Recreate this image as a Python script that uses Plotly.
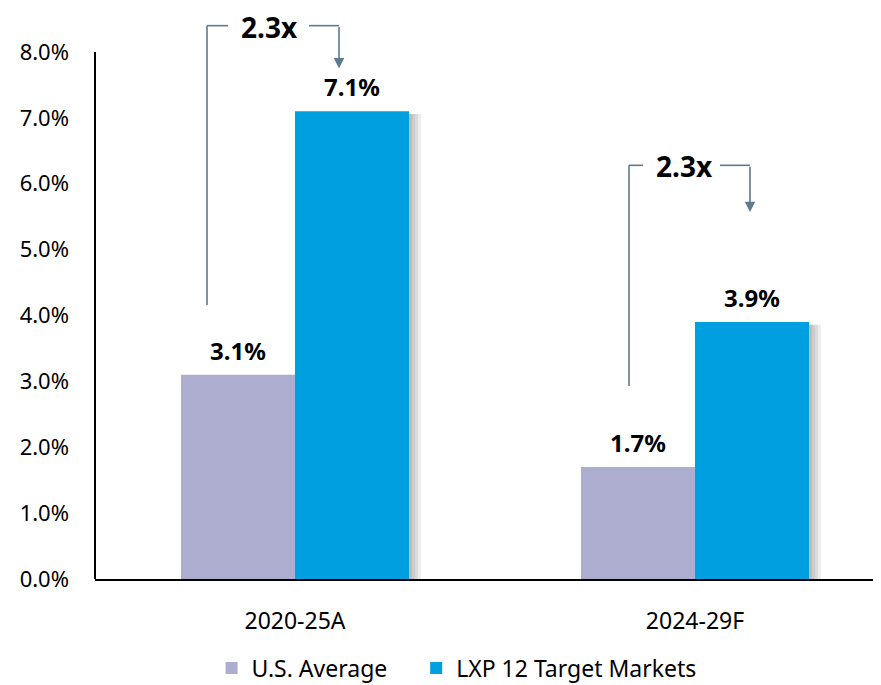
import plotly.graph_objects as go

categories = ["2020-25A", "2024-29F"]
us_average = [3.1, 1.7]
lxp_markets = [7.1, 3.9]
series_names = ["U.S. Average", "LXP 12 Target Markets"]
multiplier_labels = ["2.3x", "2.3x"]
y_ticks = [0, 1, 2, 3, 4, 5, 6, 7, 8]
y_tick_labels = ["0.0%", "1.0%", "2.0%", "3.0%", "4.0%", "5.0%", "6.0%", "7.0%", "8.0%"]

PURPLE = "#adadd0"
BLUE = "#009fdf"
ARROW = "#5b7b8e"
FONT = "Noto Sans"

# page has an 8px body margin; figure laid out so the visible part matches the window
FIG_W, FIG_H = 873, 685
M_L, M_R, M_T, M_B = 87, 0, 0, 114
PLOT_H = FIG_H - M_T - M_B
PX_PER_UNIT = 65.875
Y_MAX = PLOT_H / PX_PER_UNIT  # room above the top tick for the brackets
X_SPAN = (FIG_W - M_L - M_R) / 400.0

fig = go.Figure()
fig.add_trace(go.Bar(x=categories, y=us_average,
                     name=series_names[0] + "&nbsp;&nbsp;&nbsp;&nbsp;",
                     marker=dict(color=PURPLE, line=dict(width=0))))
fig.add_trace(go.Bar(x=categories, y=lxp_markets, name=series_names[1],
                     marker=dict(color=BLUE, line=dict(width=0))))

half = 0.285 / 2  # half width of one bar in category units
annotations = []
shapes = []
for i, (u, l) in enumerate(zip(us_average, lxp_markets)):
    for xv, val in ((i - half, u), (i + half, l)):
        annotations.append(dict(x=xv, y=val, xref="x", yref="y", text=f"<b>{val:.1f}%</b>",
                                showarrow=False, yanchor="bottom", yshift=6,
                                font=dict(size=24, color="black", family=FONT)))
    # soft shadow at the right of the blue bar
    for k in range(4):
        shapes.append(dict(type="rect", xref="x", yref="y", layer="below",
                           x0=i + 2 * half, x1=i + 2 * half + 0.0075 * (k + 1),
                           y0=-0.03, y1=l - 0.04, line=dict(width=0),
                           fillcolor="rgba(0,0,0,0.07)"))

# y axis line only up to the top tick
shapes.append(dict(type="line", xref="paper", yref="y", x0=0, x1=0, y0=0, y1=y_ticks[-1],
                   line=dict(color="black", width=2)))

# bracket geometry (category units relative to group centre, value units)
brackets = [
    dict(left=-0.22, lend=-0.1675, text=-0.065, rstart=0.035, arrow=0.11,
         top=8.40, bottom=4.16, tip=7.75),
    dict(left=-0.165, lend=-0.13, text=-0.0275, rstart=0.0625, arrow=0.1375,
         top=6.28, bottom=2.93, tip=5.57),
]

def line_shape(x0, y0, x1, y1):
    return dict(type="line", xref="x", yref="y", x0=x0, y0=y0, x1=x1, y1=y1,
                line=dict(color=ARROW, width=1.6))

for i, b in enumerate(brackets):
    shapes.append(line_shape(i + b["left"], b["bottom"], i + b["left"], b["top"]))
    shapes.append(line_shape(i + b["left"], b["top"], i + b["lend"], b["top"]))
    shapes.append(line_shape(i + b["rstart"], b["top"], i + b["arrow"], b["top"]))
    annotations.append(dict(x=i + b["arrow"], y=b["tip"], ax=i + b["arrow"], ay=b["top"],
                            xref="x", yref="y", axref="x", ayref="y", text="",
                            showarrow=True, arrowhead=2, arrowsize=1.3, arrowwidth=1.6,
                            arrowcolor=ARROW, standoff=0, startstandoff=0))
    annotations.append(dict(x=i + b["text"], y=b["top"], xref="x", yref="y",
                            text=f"<b>{multiplier_labels[i]}</b>", showarrow=False,
                            borderpad=0, yshift=-1,
                            font=dict(size=28, color="black", family=FONT)))

fig.update_layout(
    width=FIG_W, height=FIG_H,
    margin=dict(l=M_L, r=M_R, t=M_T, b=M_B),
    paper_bgcolor="white", plot_bgcolor="white",
    barmode="group", bargap=0.43, bargroupgap=0,
    font=dict(family=FONT, size=22, color="black"),
    showlegend=True,
    legend=dict(orientation="h", x=0.46, xanchor="center", y=-0.156, yanchor="middle",
                font=dict(size=23, color="black"), itemwidth=30, traceorder="normal"),
    annotations=annotations,
    shapes=shapes,
)
fig.update_xaxes(type="category", range=[-0.5, -0.5 + X_SPAN], showline=True,
                 linecolor="black", linewidth=2, ticks="", showgrid=False,
                 ticklabelstandoff=20, tickfont=dict(size=23), automargin=False)
fig.update_yaxes(range=[0, Y_MAX], tickvals=y_ticks, ticktext=y_tick_labels, showline=False,
                 ticks="", showgrid=False, zeroline=False,
                 ticklabelstandoff=25, tickfont=dict(size=22), automargin=False)

fig.write_html("out.html")
